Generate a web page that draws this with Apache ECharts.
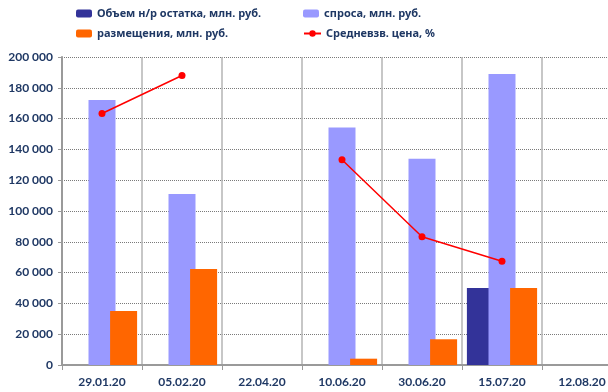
<!DOCTYPE html>
<html>
<head>
<meta charset="utf-8">
<script src="https://cdn.jsdelivr.net/npm/echarts@6/dist/echarts.min.js"></script>
<style>
  html, body { margin: 0; padding: 0; background: #fff; overflow: hidden; }
  /* wider than the window on purpose: the source plot is cut off on the right */
  #chart { width: 622px; height: 392px; }
</style>
</head>
<body>
<div id="chart"></div>
<script>
// dates of the auctions
const categories = ["29.01.20", "05.02.20", "22.04.20", "10.06.20", "30.06.20", "15.07.20", "12.08.20"];
// mln rub
const ostatok = [null, null, null, null, null, 50000, null];
const spros = [172000, 111000, null, 154300, 134000, 189000, null];
const razmeshenie = [35000, 62300, null, 4100, 16700, 50000, null];
// weighted avg price, % (hidden right axis)
const price = [100.45, 100.82, null, 100.0, 99.25, 99.01, null];
const yTicks = { min: 0, max: 200000, step: 20000 };

const names = [
	"Объем н/р остатка, млн. руб.",
	"спроса, млн. руб.",
	"размещения, млн. руб.",
	"Средневзв. цена, %",
];

const TEXT = "#1f3864";
const FONT = "Lato";
const LEGEND_FONT = "'Liberation Sans Narrow', 'Noto Sans', sans-serif";

const legendText = { color: TEXT, fontSize: 11, fontWeight: "bold", fontFamily: LEGEND_FONT };
const legendAt = (name, left, top, extra) => ({
	data: [name],
	left,
	top,
	itemWidth: 16,
	itemHeight: 8,
	itemGap: 2,
	padding: 0,
	selectedMode: false,
	textStyle: legendText,
	...extra,
});

const chart = echarts.init(document.getElementById("chart"), null, { renderer: "canvas" });

chart.setOption({
	animation: false,
	backgroundColor: "#fff",
	legend: [
		legendAt(names[0], 76, 8),
		legendAt(names[1], 303, 8),
		legendAt(names[2], 76, 28),
		legendAt(names[3], 303, 28, { itemWidth: 17 }),
	],
	grid: { left: 62, top: 57, right: 0, height: 308, containLabel: false },
	xAxis: {
		type: "category",
		data: categories,
		axisLine: { lineStyle: { color: "#9a9a9a", width: 2 } },
		axisTick: { show: true, length: 5, lineStyle: { color: "#9a9a9a" } },
		axisLabel: {
			color: TEXT,
			fontSize: 12,
			fontWeight: "bold",
			fontFamily: FONT,
			margin: 11,
			interval: 0,
		},
		splitLine: { show: true, interval: 0, lineStyle: { color: "#b4b4b4", width: 1.5 } },
	},
	yAxis: [
		{
			type: "value",
			min: yTicks.min,
			max: yTicks.max,
			interval: yTicks.step,
			axisLine: { show: true, lineStyle: { color: "#9a9a9a", width: 2 } },
			axisTick: { show: true, length: 4, lineStyle: { color: "#9a9a9a" } },
			axisLabel: {
				color: TEXT,
				fontSize: 12,
				fontWeight: "bold",
				fontFamily: FONT,
				margin: 9,
				formatter: (v) => String(v).replace(/\B(?=(\d{3})+(?!\d))/g, " "),
			},
			splitLine: { show: true, lineStyle: { color: "#7a7a7a", type: [1, 1], width: 1 } },
		},
		{ type: "value", min: 98, max: 101, show: false, splitLine: { show: false } },
	],
	series: [
		{
			name: names[0],
			type: "bar",
			data: ostatok,
			barWidth: 27,
			barGap: "-20%",
			itemStyle: { color: "#333399" },
		},
		{
			name: names[1],
			type: "bar",
			data: spros,
			barWidth: 27,
			barGap: "-20%",
			itemStyle: { color: "#9999ff" },
		},
		{
			name: names[2],
			type: "bar",
			data: razmeshenie,
			barWidth: 27,
			barGap: "-20%",
			itemStyle: { color: "#ff6600" },
		},
		{
			name: names[3],
			type: "line",
			yAxisIndex: 1,
			data: price,
			connectNulls: false,
			symbol: "circle",
			symbolSize: 7,
			lineStyle: { color: "#ff0000", width: 1.5 },
			itemStyle: { color: "#ff0000" },
			z: 5,
		},
	],
});
</script>
</body>
</html>
